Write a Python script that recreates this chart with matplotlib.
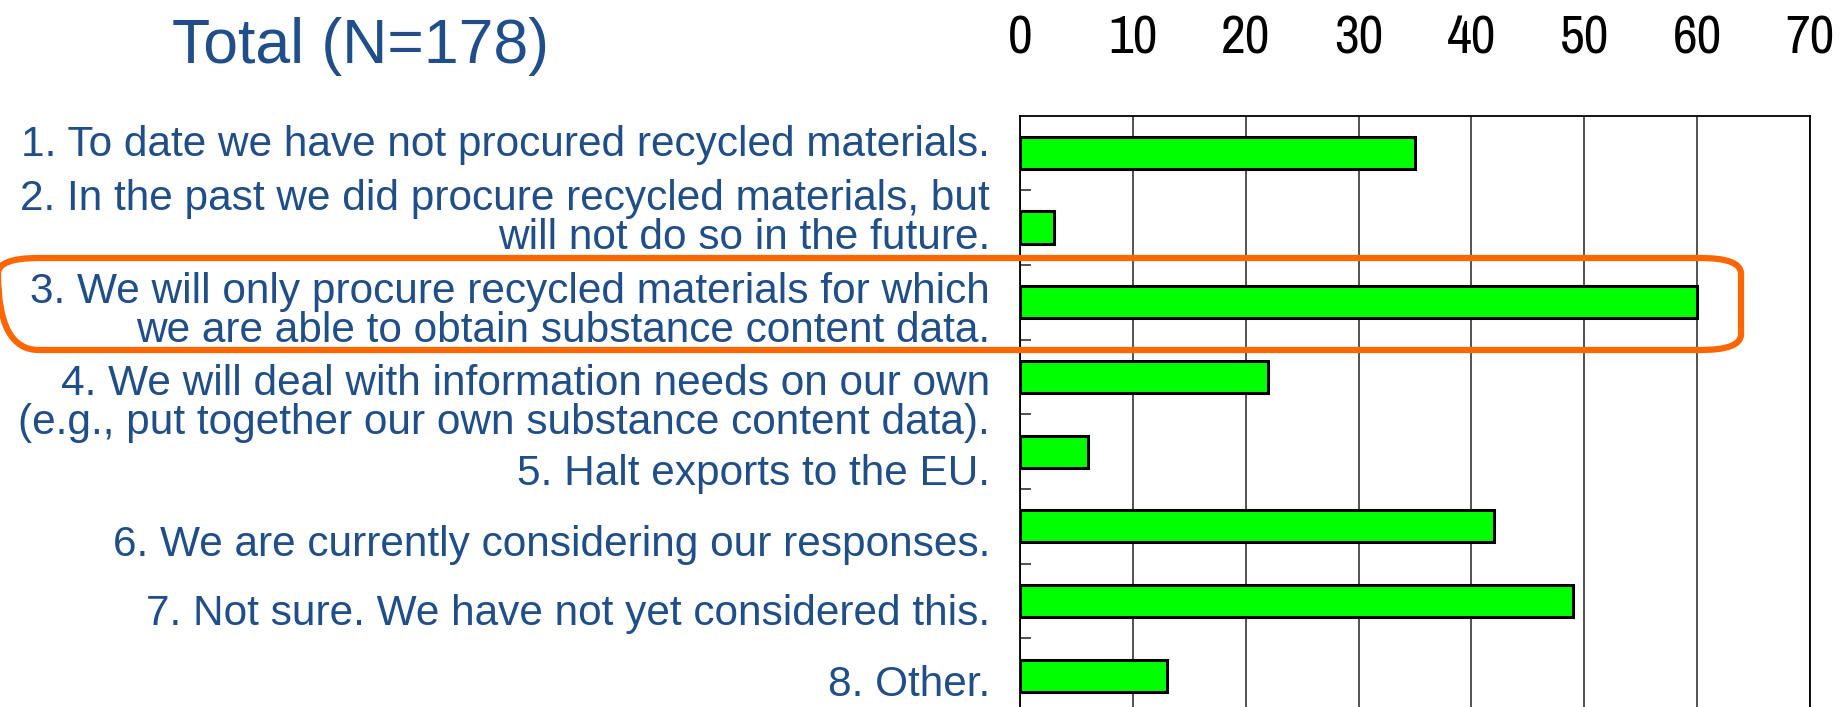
import matplotlib
matplotlib.use("Agg")
import matplotlib.pyplot as plt
from matplotlib.patches import FancyBboxPatch
from matplotlib import font_manager
import numpy as np

# answer options and number of responses
options = [
    "1. To date we have not procured recycled materials.",
    "2. In the past we did procure recycled materials, but\nwill not do so in the future.",
    "3. We will only procure recycled materials for which\nwe are able to obtain substance content data.",
    "4. We will deal with information needs on our own\n(e.g., put together our own substance content data).",
    "5. Halt exports to the EU.",
    "6. We are currently considering our responses.",
    "7. Not sure. We have not yet considered this.",
    "8. Other.",
]
counts = [35, 3, 60, 22, 6, 42, 49, 13]
x_ticks = [0, 10, 20, 30, 40, 50, 60, 70]
title = "Total (N=178)"

# small nudges of the label boxes relative to the bars (layout only)
label_shift = [-0.11, -0.12, 0.12, 0.36, 0.30, 0.25, 0.18, 0.12]

text_blue = "#1f4e89"
plt.rcParams['font.family'] = ['Liberation Sans', 'DejaVu Sans']

# look for a condensed face for the tick numbers
cond = [f for f in font_manager.fontManager.ttflist
        if 'narrow' in f.name.lower() or 'condensed' in str(f.stretch)
        or f.stretch in (600, 700)]
tick_font = dict(family=['DejaVu Sans'], fontstretch='condensed') if cond else dict(family=['Liberation Sans'])
for f in font_manager.fontManager.ttflist:
    if 'Narrow' in f.name:
        tick_font = dict(family=[f.name])
        break

W, H = 1849, 707
fig = plt.figure(figsize=(W / 100, H / 100), dpi=100)
ax = fig.add_axes([1020 / W, -6 / H, 790 / W, (707 - 115.5 + 6) / H])

y = np.arange(len(counts))
ax.barh(y, counts, height=0.43, color="#00ff00", edgecolor="black", linewidth=2.2, zorder=3)

ax.set_xlim(0, 70)
ax.set_ylim(len(counts) - 0.5, -0.5)
ax.xaxis.tick_top()
ax.set_xticks(x_ticks)
ax.set_xticklabels([str(t) for t in x_ticks], fontsize=39, **tick_font)
ax.tick_params(axis='x', length=0, pad=38)
ax.set_yticks([])
ax.set_yticks(np.arange(0.5, len(counts) - 0.5, 1), minor=True)
ax.tick_params(axis='y', which='minor', direction='in', length=8, width=1.2, color='#333333')
ax.grid(axis='x', color='#444444', linewidth=1.3, zorder=1)
for s in ax.spines.values():
    s.set_color('black')
    s.set_linewidth(1.3)

trans = ax.get_yaxis_transform()
for i, lab in enumerate(options):
    ax.text(-0.038, i + label_shift[i], lab, transform=trans, ha='right', va='center',
            fontsize=30.5, color=text_blue, linespacing=0.97, multialignment='right')

fig.text(361 / W, 1 - 47 / H, title, ha='center', va='center', fontsize=45, color=text_blue)

# highlight box around option 3
box = FancyBboxPatch((-2 / W, 1 - 350 / H), 1743 / W, 92 / H,
                     boxstyle="round,pad=0,rounding_size=0.022", transform=fig.transFigure,
                     fill=False, edgecolor="#ff6600", linewidth=4.5, zorder=10)
fig.patches.append(box)

fig.savefig("out.png", dpi=100)
